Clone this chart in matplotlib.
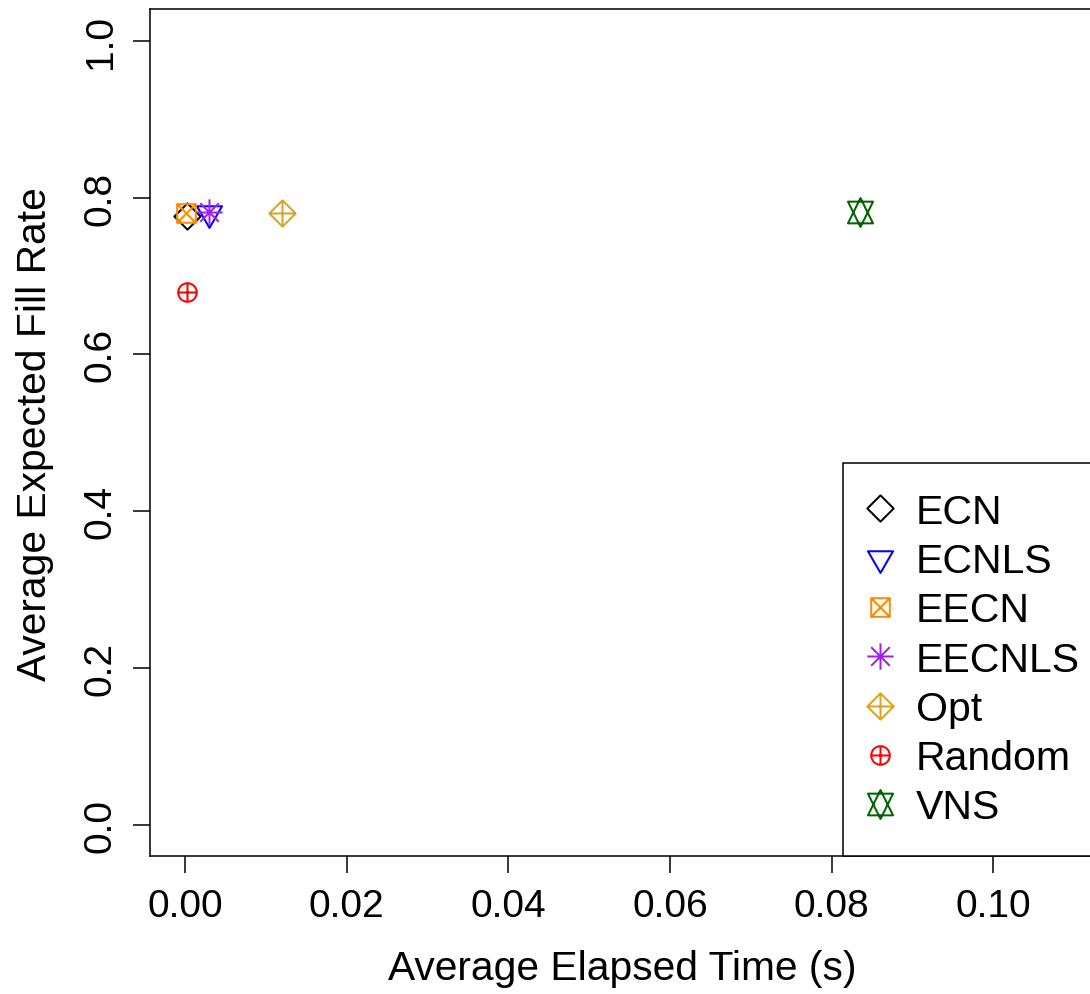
import numpy as np
import matplotlib
matplotlib.use("Agg")
import matplotlib.pyplot as plt
from matplotlib.path import Path
from matplotlib.lines import Line2D

# ---------------- data ----------------
methods = ["ECN", "ECNLS", "EECN", "EECNLS", "Opt", "Random", "VNS"]
elapsed = [0.0002, 0.0030, 0.0001, 0.0030, 0.0120, 0.0002, 0.0835]
fill_rate = [0.776, 0.780, 0.780, 0.781, 0.780, 0.679, 0.781]
colors = ["#000000", "#0000FF", "#FF8C00", "#A020F0", "#DAA520", "#FF0000", "#006400"]
xticks = [0.00, 0.02, 0.04, 0.06, 0.08, 0.10]
yticks = [0.0, 0.2, 0.4, 0.6, 0.8, 1.0]

plt.rcParams["font.family"] = ["Liberation Sans", "DejaVu Sans"]

# ---------------- R-style pch markers ----------------
S2 = np.sqrt(2.0)
TRC0 = np.sqrt(4 * np.pi / (3 * np.sqrt(3)))
TRC1 = TRC0 * np.sqrt(3) / 2
TRC2 = TRC0 / 2


def poly(pts):
    pts = list(pts) + [pts[0]]
    codes = [Path.MOVETO] + [Path.LINETO] * (len(pts) - 2) + [Path.CLOSEPOLY]
    return Path(pts, codes)


def seg(a, b):
    return Path([a, b], [Path.MOVETO, Path.LINETO])


def pch(n):
    if n == 5:
        return poly([(0, S2), (S2, 0), (0, -S2), (-S2, 0)])
    if n == 6:
        return poly([(0, -TRC0), (TRC1, TRC2), (-TRC1, TRC2)])
    if n == 7:
        return Path.make_compound_path(
            poly([(-1, -1), (1, -1), (1, 1), (-1, 1)]),
            seg((-1, -1), (1, 1)), seg((-1, 1), (1, -1)))
    if n == 8:
        return Path.make_compound_path(
            seg((-1, -1), (1, 1)), seg((-1, 1), (1, -1)),
            seg((-S2, 0), (S2, 0)), seg((0, -S2), (0, S2)))
    if n == 9:
        return Path.make_compound_path(
            poly([(0, S2), (S2, 0), (0, -S2), (-S2, 0)]),
            seg((-S2, 0), (S2, 0)), seg((0, -S2), (0, S2)))
    if n == 10:
        return Path.make_compound_path(
            Path.circle((0, 0), 1.0),
            seg((-1, 0), (1, 0)), seg((0, -1), (0, 1)))
    if n == 11:
        r = TRC0
        yc = 0.5 * (TRC2 + TRC0)
        xc = TRC1
        return Path.make_compound_path(
            poly([(0, -r), (xc, yc), (-xc, yc)]),
            poly([(0, r), (xc, -yc), (-xc, -yc)]))


pchs = [5, 6, 7, 8, 9, 10, 11]
XC_PX = 9.3          # R symbol radius in pixels
DPI = 100
MEW = 1.45


def msize(path):
    m = np.max(np.abs(path.vertices))
    return 2 * m * XC_PX * 72.0 / DPI


# ---------------- figure ----------------
fig = plt.figure(figsize=(10.9, 9.95), dpi=DPI)
W, H = 1090.0, 995.0
L, R, T, B = 150.0, 1095.0, 10.0, 857.3
ax = fig.add_axes([L / W, 1 - B / H, (R - L) / W, (B - T) / H])

handles = []
for m, x, y, c, p in zip(methods, elapsed, fill_rate, colors, pchs):
    path = pch(p)
    ms = msize(path)
    ax.plot([x], [y], linestyle="none", marker=path, markersize=ms,
            markerfacecolor="none", markeredgecolor=c, markeredgewidth=MEW)
    handles.append(Line2D([], [], linestyle="none", marker=path, markersize=ms,
                          markerfacecolor="none", markeredgecolor=c,
                          markeredgewidth=MEW, label=m))

ax.set_xlim(-0.00433, 0.1126)
ax.set_ylim(-0.04, 1.0404)

ax.set_xticks(xticks)
ax.set_xticklabels([f"{v:.2f}" for v in xticks])
ax.set_yticks(yticks)
ax.set_yticklabels([f"{v:.1f}" for v in yticks], rotation=90, va="center")
ax.tick_params(direction="out", length=12, width=1.1, labelsize=28, pad=10.5)

for s in ax.spines.values():
    s.set_linewidth(1.1)

ax.set_xlabel("Average Elapsed Time (s)", fontsize=29.3, labelpad=18.5)
ax.set_ylabel("Average Expected Fill Rate", fontsize=29.3, labelpad=21)

leg = ax.legend(handles=handles, loc="lower left",
                bbox_to_anchor=((843 - L) / (R - L), 0.0), borderaxespad=0,
                fontsize=29.5, labelspacing=0.275, borderpad=0.73,
                handlelength=0.34, handletextpad=0.71, frameon=True,
                fancybox=False, framealpha=1, edgecolor="black", numpoints=1)
leg.get_frame().set_linewidth(1.1)

fig.savefig("out.png", dpi=DPI)
